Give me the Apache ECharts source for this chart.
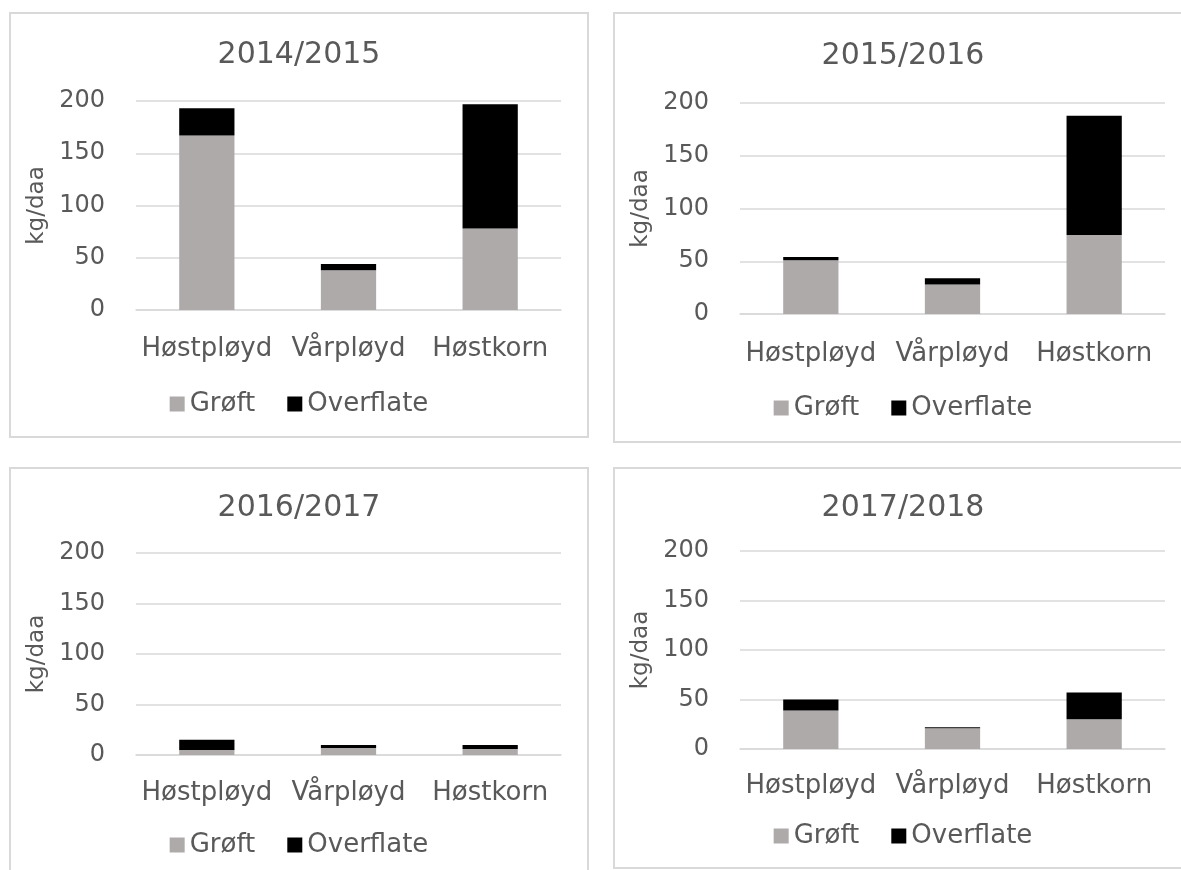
<!DOCTYPE html>
<html>
<head>
<meta charset="utf-8">
<script src="https://cdn.jsdelivr.net/npm/echarts@6/dist/echarts.min.js"></script>
<style>
  html, body { margin: 0; padding: 0; background: #fff; overflow: hidden; }
  body { width: 1181px; height: 870px; position: relative; }
  .panel {
    position: absolute;
    border: 2px solid #d9d9d9;
  }
</style>
</head>
<body>
<div id="p0" class="panel" style="left:9px; top:12px; width:576px; height:422px;"></div>
<div id="p1" class="panel" style="left:613px; top:12px; width:576px; height:427px;"></div>
<div id="p2" class="panel" style="left:9px; top:467px; width:576px; height:416px;"></div>
<div id="p3" class="panel" style="left:613px; top:467px; width:576px; height:398px;"></div>

<script>
// data (kg/daa)
const categories = ['Høstpløyd', 'Vårpløyd', 'Høstkorn']
const seasons = ['2014/2015', '2015/2016', '2016/2017', '2017/2018']
const groft = [
  [167, 38, 78],
  [51, 28, 75],
  [5, 7, 6],
  [39, 21, 30]
]
const overflate = [
  [26, 6, 119],
  [3, 6, 113],
  [10, 3, 4],
  [11, 1, 27]
]
const yTicks = { min: 0, max: 200, interval: 50 }

// per-panel placement tweaks
const layout = [
  { gridTop: 87, gridBottom: 126, titleTop: 21, labelMargin: 26, legendTop: 372 },
  { gridTop: 89, gridBottom: 127, titleTop: 22, labelMargin: 27, legendTop: 376 },
  { gridTop: 84, gridBottom: 130, titleTop: 19, labelMargin: 25, legendTop: 358 },
  { gridTop: 82, gridBottom: 118, titleTop: 19, labelMargin: 24, legendTop: 349 }
]

const textColor = '#595959'
const font = 'DejaVu Sans'

function buildOption(i) {
  const l = layout[i]
  return {
    animation: false,
    title: {
      text: seasons[i],
      left: 'center',
      top: l.titleTop,
      textStyle: { fontFamily: font, fontSize: 30, fontWeight: 'normal', color: textColor }
    },
    legend: {
      data: ['Grøft', 'Overflate'],
      left: 'center',
      top: l.legendTop,
      icon: 'rect',
      itemWidth: 15,
      itemHeight: 15,
      itemGap: 32,
      textStyle: { fontFamily: font, fontSize: 26, color: textColor }
    },
    grid: { left: 125, right: 26, top: l.gridTop, bottom: l.gridBottom },
    xAxis: {
      type: 'category',
      data: categories,
      axisLine: { lineStyle: { color: '#d9d9d9', width: 1.5 } },
      axisTick: { show: false },
      axisLabel: { interval: 0, fontFamily: font, fontSize: 26, color: textColor, margin: l.labelMargin }
    },
    yAxis: {
      type: 'value',
      min: yTicks.min,
      max: yTicks.max,
      interval: yTicks.interval,
      name: 'kg/daa',
      nameLocation: 'middle',
      nameGap: 86,
      nameTextStyle: { fontFamily: font, fontSize: 23, color: textColor },
      axisLine: { show: false },
      axisTick: { show: false },
      axisLabel: { fontFamily: font, fontSize: 24, color: textColor, margin: 31 },
      splitLine: { lineStyle: { color: '#d9d9d9', width: 1.5 } }
    },
    series: [
      {
        name: 'Grøft',
        type: 'bar',
        stack: 'total',
        barWidth: '39%',
        itemStyle: { color: '#aeaaaa' },
        data: groft[i]
      },
      {
        name: 'Overflate',
        type: 'bar',
        stack: 'total',
        barWidth: '39%',
        itemStyle: { color: '#000000' },
        data: overflate[i]
      }
    ]
  }
}

seasons.forEach((s, i) => {
  const chart = echarts.init(document.getElementById('p' + i))
  chart.setOption(buildOption(i))
})
</script>
</body>
</html>
